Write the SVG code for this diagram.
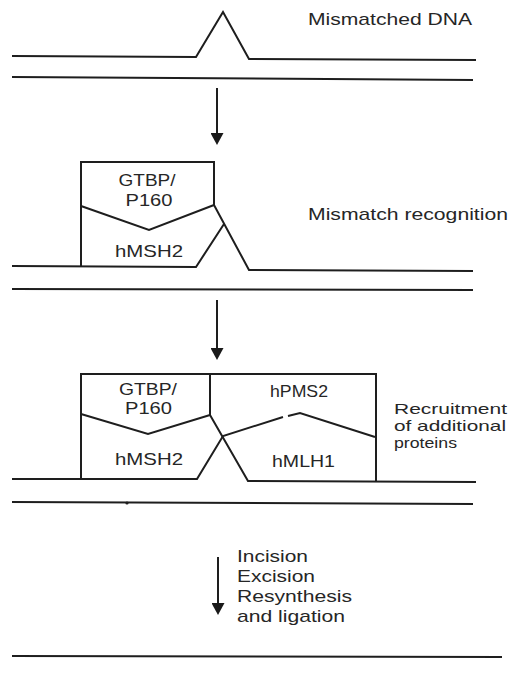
<svg xmlns="http://www.w3.org/2000/svg" width="513" height="674" viewBox="0 0 513 674">
  <defs>
    <marker id="head" viewBox="0 0 12 13" refX="9" refY="6.5" markerWidth="12" markerHeight="13" markerUnits="userSpaceOnUse" orient="auto">
      <path d="M0,0 L12,6.5 L0,13 Z" fill="#1a1a1a"/>
    </marker>
  </defs>
  <style>
    .ln { fill: none; stroke: #1e1e1e; stroke-width: 2; stroke-linejoin: miter; stroke-linecap: butt; }
    .arr { fill: none; stroke: #1e1e1e; stroke-width: 2; marker-end: url(#head); }
    text { font-family: "Liberation Sans", Arial, sans-serif; font-size: 17px; fill: #262626; }
    .small { font-size: 14.5px; }
    .mid { text-anchor: middle; }
  </style>
  <rect width="513" height="674" fill="#ffffff"/>

  <!-- Stage 1: DNA with an unpaired loop -->
  <g id="mismatched-dna">
    <polyline class="ln" points="12,56 196,57 223,12 249,59 476,60"/>
    <polyline class="ln" points="12,77 473,80"/>
    <text x="308" y="25" textLength="164" lengthAdjust="spacingAndGlyphs">Mismatched DNA</text>
  </g>

  <!-- Stage 2: hMSH2 / GTBP complex bound at the mismatch -->
  <g id="mismatch-recognition">
    <polyline class="ln" points="12,266 196,267 224,224"/>
    <polyline class="ln" points="81,266 81,162 214,162 214,205 249,270 473,271"/>
    <polyline class="ln" points="81,206 149,230 214,205"/>
    <polyline class="ln" points="12,289 473,290"/>
    <text class="mid" x="147" y="186" textLength="57" lengthAdjust="spacingAndGlyphs">GTBP/</text>
    <text class="mid" x="149" y="206" textLength="47" lengthAdjust="spacingAndGlyphs">P160</text>
    <text class="mid" x="149" y="257" textLength="68" lengthAdjust="spacingAndGlyphs">hMSH2</text>
    <text x="308" y="220" textLength="200" lengthAdjust="spacingAndGlyphs">Mismatch recognition</text>
  </g>

  <!-- Stage 3: hMLH1 / hPMS2 join the complex -->
  <g id="recruitment">
    <polyline class="ln" points="12,479 197,479 223,436 283,417"/>
    <polyline class="ln" points="288,416 300,413 375,437"/>
    <polyline class="ln" points="81,479 81,374 376,374 376,482"/>
    <polyline class="ln" points="210,374 210,415 248,481 476,482"/>
    <polyline class="ln" points="81,414 148,434 210,415"/>
    <polyline class="ln" points="12,502 473,504"/>
    <circle cx="127" cy="503" r="1.6" fill="#1e1e1e"/>
    <text class="mid" x="148" y="395" textLength="58" lengthAdjust="spacingAndGlyphs">GTBP/</text>
    <text class="mid" x="148.5" y="414" textLength="47" lengthAdjust="spacingAndGlyphs">P160</text>
    <text class="mid" x="149" y="465" textLength="68" lengthAdjust="spacingAndGlyphs">hMSH2</text>
    <text class="mid" x="299" y="397" textLength="58" lengthAdjust="spacingAndGlyphs">hPMS2</text>
    <text class="mid" x="303.5" y="467" textLength="63" lengthAdjust="spacingAndGlyphs">hMLH1</text>
    <text class="small" x="394" y="414" textLength="113" lengthAdjust="spacingAndGlyphs">Recruitment</text>
    <text class="small" x="394" y="431" textLength="112" lengthAdjust="spacingAndGlyphs">of additional</text>
    <text class="small" x="394" y="448" textLength="63" lengthAdjust="spacingAndGlyphs">proteins</text>
  </g>

  <!-- Stage 4: repaired duplex -->
  <g id="repaired-dna">
    <polyline class="ln" points="12,656 502,657"/>
    <text x="237" y="562" textLength="71" lengthAdjust="spacingAndGlyphs">Incision</text>
    <text x="237" y="582" textLength="78" lengthAdjust="spacingAndGlyphs">Excision</text>
    <text x="237" y="602" textLength="115" lengthAdjust="spacingAndGlyphs">Resynthesis</text>
    <text x="237" y="622" textLength="108" lengthAdjust="spacingAndGlyphs">and ligation</text>
  </g>

  <!-- Step arrows -->
  <g id="connectors">
    <line class="arr" x1="217" y1="88" x2="217" y2="142"/>
    <line class="arr" x1="217" y1="300" x2="217" y2="357"/>
    <line class="arr" x1="218" y1="557" x2="218" y2="612"/>
  </g>
</svg>
